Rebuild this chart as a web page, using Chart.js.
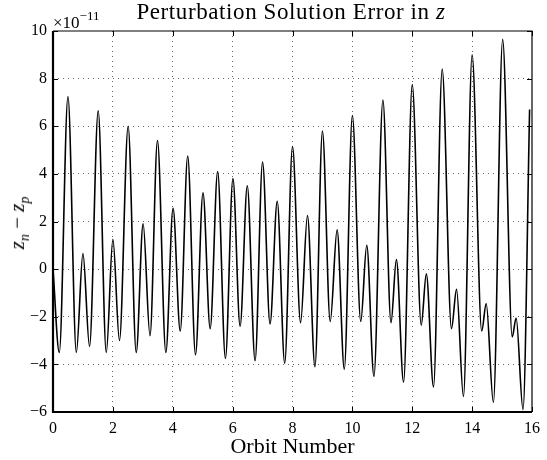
<!DOCTYPE html>
<html>
<head>
<meta charset="utf-8">
<script src="https://cdn.jsdelivr.net/npm/chart.js"></script>
<style>
  body { margin: 0; background: #fff; }
  #wrap { position: relative; width: 547px; height: 460px; font-family: "Liberation Serif", "DejaVu Serif", serif; color: #000; }
  #title { position: absolute; left: 0; width: 582px; top: -1px; text-align: center; font-size: 23px; letter-spacing: 0.6px; white-space: nowrap; }
  #mult { position: absolute; left: 53px; top: 7px; font-size: 17px; line-height: 20px; }
  #mult sup { font-size: 13px; position: relative; top: -1px; }
  #ylab { position: absolute; left: 19px; top: 223px; font-size: 21px; white-space: nowrap; transform: translate(-50%, -50%) rotate(-90deg); }
  #ylab sub { font-size: 14px; }
</style>
</head>
<body>
<div id="wrap">
  <canvas id="chart1" width="547" height="460"></canvas>
  <div id="title">Perturbation Solution Error in <i>z</i></div>
  <div id="mult">&times;10<sup>&minus;11</sup></div>
  <div id="ylab"><i>z</i><sub><i>n</i></sub> &minus; <i>z</i><sub><i>p</i></sub></div>
</div>
<script>
// values, error in units of 1e-11
var orbit = [0, 0.21, 0.50, 0.78, 1.00, 1.22, 1.51, 1.78, 2.00, 2.22, 2.51, 2.78, 3.01, 3.24, 3.49, 3.77,
  4.01, 4.25, 4.50, 4.76, 5.01, 5.25, 5.50, 5.76, 6.01, 6.25, 6.49, 6.75, 7.00, 7.25, 7.49, 7.74,
  8.00, 8.27, 8.50, 8.75, 9.00, 9.26, 9.49, 9.73, 10.00, 10.28, 10.48, 10.72, 11.02, 11.29, 11.47, 11.71,
  12.00, 12.30, 12.47, 12.71, 13.00, 13.31, 13.48, 13.71, 14.00, 14.32, 14.47, 14.71, 15.02, 15.34, 15.47, 15.70, 15.92];
var errZ = [0, -3.5, 7.25, -3.5, 0.65, -3.25, 6.65, -3.5, 1.25, -3.0, 6.0, -3.5, 1.9, -2.8, 5.4, -3.5,
  2.55, -2.6, 4.75, -3.6, 3.2, -2.5, 4.1, -3.75, 3.8, -2.4, 3.5, -3.85, 4.5, -2.3, 2.85, -3.95,
  5.15, -2.25, 2.25, -4.1, 5.8, -2.2, 1.65, -4.2, 6.45, -2.2, 1.0, -4.5, 7.1, -2.25, 0.4, -4.75,
  7.75, -2.35, -0.2, -4.95, 8.4, -2.5, -0.85, -5.35, 9.0, -2.6, -1.45, -5.6, 9.65, -2.85, -2.05, -5.9, 6.7];
var xTicks = [0, 2, 4, 6, 8, 10, 12, 14, 16];
var yTicks = [-6, -4, -2, 0, 2, 4, 6, 8, 10];

var pts = orbit.map(function (x, i) { return { x: x, y: errZ[i] }; });
var serif = '"Liberation Serif", "DejaVu Serif", serif';

// box around the axes plus little inward tick marks, matlab style
var boxPlugin = {
  id: 'box',
  afterDraw: function (chart) {
    var c = chart.ctx, a = chart.chartArea;
    var sx = chart.scales.x, sy = chart.scales.y;
    c.save();
    c.strokeStyle = '#000';
    c.lineWidth = 1;
    c.beginPath();
    sx.ticks.forEach(function (t) {
      var px = Math.round(sx.getPixelForValue(t.value)) + 0.5;
      c.moveTo(px, a.bottom); c.lineTo(px, a.bottom - 5);
      c.moveTo(px, a.top); c.lineTo(px, a.top + 5);
    });
    sy.ticks.forEach(function (t) {
      var py = Math.round(sy.getPixelForValue(t.value)) + 0.5;
      c.moveTo(a.left, py); c.lineTo(a.left + 5, py);
      c.moveTo(a.right, py); c.lineTo(a.right - 5, py);
    });
    c.stroke();
    // thin top and right edges
    c.lineWidth = 1.2;
    c.beginPath();
    c.moveTo(a.left, a.top); c.lineTo(a.right, a.top); c.lineTo(a.right, a.bottom);
    c.stroke();
    // heavier left and bottom axes
    c.lineWidth = 2.2;
    c.beginPath();
    c.moveTo(a.left, a.top); c.lineTo(a.left, a.bottom); c.lineTo(a.right, a.bottom);
    c.stroke();
    c.restore();
  }
};

var chart1 = new Chart(document.getElementById('chart1').getContext('2d'), {
  type: 'line',
  data: {
    datasets: [{
      label: 'z error',
      data: pts,
      borderColor: '#000',
      borderWidth: 1.6,
      pointRadius: 0,
      fill: false,
      cubicInterpolationMode: 'monotone'
    }]
  },
  options: {
    responsive: false,
    animation: false,
    layout: { padding: { left: 0, top: 31, right: 7, bottom: 0 } },
    plugins: { legend: { display: false }, tooltip: { enabled: false }, title: { display: false } },
    scales: {
      x: {
        type: 'linear',
        min: 0, max: 16,
        afterBuildTicks: function (s) { s.ticks = xTicks.map(function (v) { return { value: v }; }); },
        afterFit: function (s) { s.height = 48; },
        grid: { color: 'rgba(0,0,0,0.6)', drawTicks: false,
          lineWidth: function (ctx) { return (ctx.tick && (ctx.tick.value === 0 || ctx.tick.value === 16)) ? 0 : 1; } },
        border: { display: false, dash: [1, 4] },
        ticks: { color: '#000', padding: 7, maxRotation: 0, font: { family: serif, size: 16 } },
        title: { display: true, text: 'Orbit Number', color: '#000', padding: { top: 0, bottom: 0 }, font: { family: serif, size: 22 } }
      },
      y: {
        type: 'linear',
        min: -6, max: 10,
        afterBuildTicks: function (s) { s.ticks = yTicks.map(function (v) { return { value: v }; }); },
        afterFit: function (s) { s.width = 53; },
        grid: { color: 'rgba(0,0,0,0.6)', drawTicks: false,
          lineWidth: function (ctx) { return (ctx.tick && (ctx.tick.value === -6 || ctx.tick.value === 10)) ? 0 : 1; } },
        border: { display: false, dash: [1, 4] },
        ticks: { color: '#000', padding: 6, font: { family: serif, size: 16 },
          callback: function (v) { return v < 0 ? '\u2212' + Math.abs(v) : String(v); } }
      }
    }
  },
  plugins: [boxPlugin]
});
</script>
</body>
</html>
